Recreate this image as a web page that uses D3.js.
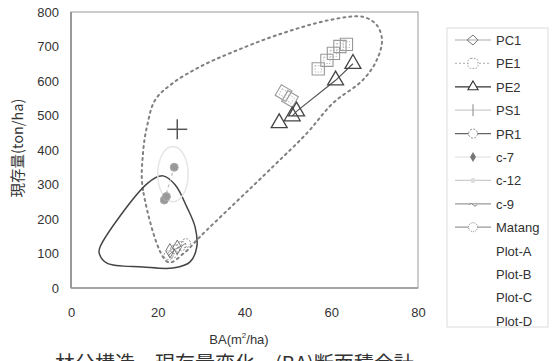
<!DOCTYPE html>
<html>
<head>
<meta charset="utf-8">
<script src="https://cdn.jsdelivr.net/npm/d3@7"></script>
<style>
  html, body { margin: 0; padding: 0; background: #fff; overflow: hidden; }
  text { font-family: "Liberation Sans", "DejaVu Sans", sans-serif; fill: #333; }
  .cjk { font-family: "Noto Sans CJK JP", sans-serif; }
</style>
</head>
<body>
<svg id="chart" width="556" height="361"></svg>
<script>
// Basal area (m2/ha) vs. standing biomass (ton/ha) for each stand
const xTicks = [0, 20, 40, 60, 80];
const yTicks = [0, 100, 200, 300, 400, 500, 600, 700, 800];

const pe1 = [[49, 565], [50.5, 548], [57, 635], [59, 660], [60.5, 680], [62, 700], [63.5, 706]];
const pe2 = [[48, 478], [51, 498], [52, 512], [61, 602], [65, 650]];
const ps1 = [[24.5, 460]];
const c7 = [[23.8, 350], [21.5, 255], [22, 265]];
const matang = [[22.5, 95], [24, 112], [25.5, 122], [26.5, 130], [23.5, 100]];
const pc1 = [[24.5, 118], [22.8, 108]];

// outline of the mature-stand group (dotted)
const outerLoop = [[22.4, 75], [16.6, 284], [16.6, 391], [17.5, 467], [19.4, 545], [23.5, 594],
  [29.7, 641], [37.3, 684], [47.5, 733], [59.7, 777], [67.3, 786], [70.5, 762], [71.7, 719],
  [70.5, 661], [67.3, 603], [60.4, 536], [54.4, 449], [46.5, 351], [29.7, 148], [26.3, 104]];
// outline of the young-stand group (solid)
const innerLoop = [[21.2, 325], [17.7, 304], [6.7, 119], [6.5, 101], [8.3, 72], [16.6, 61],
  [23.5, 58], [27.4, 75], [29.0, 119], [28.6, 177], [26.7, 235], [24.0, 299]];

const legendNames = ["PC1", "PE1", "PE2", "PS1", "PR1", "c-7", "c-12", "c-9", "Matang",
  "Plot-A", "Plot-B", "Plot-C", "Plot-D"];

const svg = d3.select("#chart");
const x = d3.scaleLinear().domain([0, 80]).range([71, 418]);
const y = d3.scaleLinear().domain([0, 800]).range([288, 12]);

// plot frame
svg.append("rect").attr("x", x(0)).attr("y", y(800))
  .attr("width", x(80) - x(0)).attr("height", y(0) - y(800))
  .attr("fill", "none").attr("stroke", "#aaa").attr("stroke-width", 1.2);
svg.append("line").attr("x1", x(0)).attr("x2", x(0)).attr("y1", y(800)).attr("y2", y(0))
  .attr("stroke", "#888").attr("stroke-width", 1.5);
svg.append("line").attr("x1", x(0)).attr("x2", x(80)).attr("y1", y(0)).attr("y2", y(0))
  .attr("stroke", "#999").attr("stroke-width", 1.3);

// axes (labels only)
const yAxis = svg.append("g").attr("transform", `translate(${x(0)},0)`)
  .call(d3.axisLeft(y).tickValues(yTicks).tickSize(0).tickPadding(12));
yAxis.select(".domain").remove();
yAxis.selectAll("text").style("font-size", "13px").attr("fill", "#444");

const xAxis = svg.append("g").attr("transform", `translate(0,${y(0)})`)
  .call(d3.axisBottom(x).tickValues(xTicks).tickSize(0).tickPadding(20));
xAxis.select(".domain").remove();
xAxis.selectAll("text").style("font-size", "13px").attr("fill", "#444");

// axis titles
svg.append("text").attr("class", "cjk")
  .attr("transform", "translate(23,148) rotate(-90)")
  .attr("text-anchor", "middle").style("font-size", "14.5px").attr("fill", "#444")
  .text("現存量(ton/ha)");
const xt = svg.append("text").attr("x", 239).attr("y", 344)
  .attr("text-anchor", "middle").style("font-size", "13px").attr("fill", "#444");
xt.append("tspan").text("BA(m");
xt.append("tspan").attr("dy", -6).style("font-size", "8px").text("2");
xt.append("tspan").attr("dy", 6).text("/ha)");

// group outlines
const loopLine = d3.line().x(d => x(d[0])).y(d => y(d[1])).curve(d3.curveCatmullRomClosed.alpha(0.5));
svg.append("path").attr("d", loopLine(outerLoop)).attr("fill", "none")
  .attr("stroke", "#808080").attr("stroke-width", 2).attr("stroke-dasharray", "2,4")
  .attr("stroke-linecap", "round");
svg.append("path").attr("d", loopLine(innerLoop)).attr("fill", "none")
  .attr("stroke", "#444").attr("stroke-width", 1.5);
// faint ring around the c-7 points
svg.append("ellipse").attr("cx", x(23.5)).attr("cy", y(330))
  .attr("rx", x(27) - x(23.5)).attr("ry", y(250) - y(330))
  .attr("fill", "none").attr("stroke", "#e6e6e6").attr("stroke-width", 1.5);

// PE2 trajectory
const pathLine = d3.line().x(d => x(d[0])).y(d => y(d[1]));
svg.append("path").attr("d", pathLine(pe2.slice(1))).attr("fill", "none")
  .attr("stroke", "#555").attr("stroke-width", 1.2);
svg.append("path").attr("d", pathLine(c7)).attr("fill", "none")
  .attr("stroke", "#bbb").attr("stroke-width", 1.2).attr("stroke-dasharray", "3,3");

// markers
const tri = d3.symbol().type(d3.symbolTriangle).size(110);
const triSmall = d3.symbol().type(d3.symbolTriangle).size(45);
const sq = d3.symbol().type(d3.symbolSquare).size(150);

svg.append("g").selectAll("path").data(pe1).join("path")
  .attr("d", sq)
  .attr("transform", (d, i) => `translate(${x(d[0])},${y(d[1])}) rotate(${i < 2 ? 30 : 0})`)
  .attr("fill", "none").attr("stroke", "#999").attr("stroke-width", 1.1);
svg.append("g").selectAll("path").data(pe1).join("path")
  .attr("d", d3.symbol().type(d3.symbolSquare).size(40))
  .attr("transform", (d, i) => `translate(${x(d[0])},${y(d[1])}) rotate(${i < 2 ? 30 : 0})`)
  .attr("fill", "none").attr("stroke", "#aaa").attr("stroke-width", 0.8).attr("stroke-dasharray", "1.5,1.5");

svg.append("g").selectAll("path").data(pe2).join("path")
  .attr("d", tri).attr("transform", d => `translate(${x(d[0])},${y(d[1])})`)
  .attr("fill", "none").attr("stroke", "#444").attr("stroke-width", 1.3);

svg.append("g").selectAll("g").data(ps1).join("g")
  .attr("transform", d => `translate(${x(d[0])},${y(d[1])})`)
  .call(g => {
    g.append("line").attr("x1", -10).attr("x2", 10).attr("stroke", "#555").attr("stroke-width", 1.5);
    g.append("line").attr("y1", -10).attr("y2", 10).attr("stroke", "#555").attr("stroke-width", 1.5);
  });

svg.append("g").selectAll("circle").data(c7).join("circle")
  .attr("cx", d => x(d[0])).attr("cy", d => y(d[1])).attr("r", 4)
  .attr("fill", "#999").attr("stroke", "#aaa");

svg.append("g").selectAll("circle").data(matang).join("circle")
  .attr("cx", d => x(d[0])).attr("cy", d => y(d[1])).attr("r", 4.5)
  .attr("fill", "none").attr("stroke", "#888").attr("stroke-width", 0.9).attr("stroke-dasharray", "2,1.5");
svg.append("path").attr("d", pathLine(matang.slice(0, 4))).attr("fill", "none")
  .attr("stroke", "#777").attr("stroke-width", 0.9);
svg.append("g").selectAll("path").data(pc1).join("path")
  .attr("d", d3.symbol().type(d3.symbolDiamond).size(60))
  .attr("transform", d => `translate(${x(d[0])},${y(d[1])})`)
  .attr("fill", "none").attr("stroke", "#666").attr("stroke-width", 0.9);

// legend
const lg = svg.append("g");
lg.append("rect").attr("x", 447).attr("y", 28).attr("width", 101).attr("height", 299)
  .attr("fill", "#fff").attr("stroke", "#e2e2e2").attr("stroke-width", 1.2);
const ly = i => 40 + i * 23.4;
const item = lg.selectAll("g.item").data(legendNames).join("g").attr("class", "item")
  .attr("transform", (d, i) => `translate(0,${ly(i)})`);
item.append("text").attr("x", 496).attr("y", 5).style("font-size", "13px").attr("fill", "#333")
  .text(d => d);

const sample = [
  { dash: null, c: "#aaa", m: "diamond" },
  { dash: "2,2", c: "#bbb", m: "dsq" },
  { dash: null, c: "#333", m: "tri" },
  { dash: null, c: "#ccc", m: "plus" },
  { dash: null, c: "#666", m: "dcirc" },
  { dash: null, c: "#ddd", m: "dot" },
  { dash: null, c: "#ccc", m: "small" },
  { dash: null, c: "#999", m: "tilde" },
  { dash: null, c: "#999", m: "stripe" }
];
sample.forEach((s, i) => {
  const g = lg.append("g").attr("transform", `translate(473,${ly(i)})`);
  g.append("line").attr("x1", -18).attr("x2", 18).attr("stroke", s.c).attr("stroke-width", 1.2)
    .attr("stroke-dasharray", s.dash);
  if (s.m === "diamond") g.append("path").attr("d", "M-6,0 L0,-5 M-6,0 L0,5 M0,-5 L5,0 L0,5").attr("fill", "none").attr("stroke", "#777");
  if (s.m === "dsq") g.append("rect").attr("x", -5).attr("y", -5).attr("width", 10).attr("height", 10).attr("rx", 3)
    .attr("fill", "#fff").attr("stroke", "#999").attr("stroke-dasharray", "1.5,1.5");
  if (s.m === "tri") g.append("path").attr("d", triSmall()).attr("fill", "#fff").attr("stroke", "#333").attr("stroke-width", 1.1);
  if (s.m === "plus") g.append("line").attr("y1", -6).attr("y2", 6).attr("stroke", "#888");
  if (s.m === "dcirc") g.append("circle").attr("r", 4.5).attr("fill", "#fff").attr("stroke", "#888").attr("stroke-dasharray", "2,1.5");
  if (s.m === "dot") g.append("path").attr("d", d3.symbol().type(d3.symbolDiamond).size(30)()).attr("fill", "#777");
  if (s.m === "small") g.append("circle").attr("r", 2.5).attr("fill", "#ddd");
  if (s.m === "tilde") g.append("path").attr("d", "M-4,1 q2,-3 4,0 q2,3 4,0").attr("fill", "#fff").attr("stroke", "#888");
  if (s.m === "stripe") g.append("circle").attr("r", 4.5).attr("fill", "#fff").attr("stroke", "#888").attr("stroke-dasharray", "1,1");
});

// caption below the plot
svg.append("text").attr("class", "cjk").attr("x", 55).attr("y", 371)
  .style("font-size", "20px").attr("fill", "#222")
  .text("林分構造・現存量変化・(BA)断面積合計");
</script>
</body>
</html>
